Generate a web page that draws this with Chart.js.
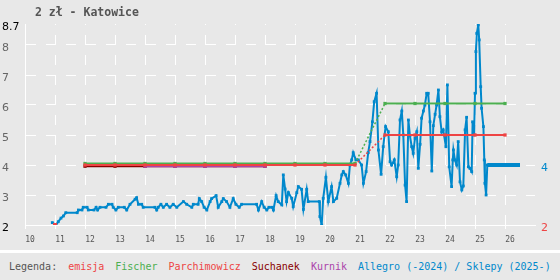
<!DOCTYPE html>
<html>
<head>
<meta charset="utf-8">
<script src="https://cdn.jsdelivr.net/npm/chart.js@4"></script>
<style>
  body { margin: 0; background: #e8e8e8; }
  #wrap { position: relative; width: 560px; height: 280px; background: #e8e8e8; overflow: hidden; }
  #title { position: absolute; left: 35px; top: 4px; font: bold 11.5px "DejaVu Sans Mono", monospace; line-height: 16px; color: #555; white-space: pre; }
  #sep { position: absolute; left: 0; top: 250px; width: 560px; height: 3px; background: #fff; }
  #legend { position: absolute; left: 9px; top: 260px; font: 10px "DejaVu Sans Mono", monospace; line-height: 14px; color: #555; white-space: pre; }
  #legend span { margin-left: 11px; }
</style>
</head>
<body>
<div id="wrap">
  <canvas id="chart" width="560" height="250"></canvas>
  <div id="title">2 zł - Katowice</div>
  <div id="sep"></div>
  <div id="legend">Legenda:<span style="color:#e44">emisja</span><span style="color:#4caf50">Fischer</span><span style="color:#e44">Parchimowicz</span><span style="color:#800">Suchanek</span><span style="color:#a4a">Kurnik</span><span style="color:#08c">Allegro (-2024) / Sklepy (2025-)</span></div>
</div>
<script>
// tick labels
var xYears = [10, 11, 12, 13, 14, 15, 16, 17, 18, 19, 20, 21, 22, 23, 24, 25, 26];
var yTicks = [2, 3, 4, 5, 6, 7, 8, 8.7];

// emisja
var emisjaYears = [11];
var emisjaPrices = [2];

// katalogi
var fischerYears = [12, 13, 14, 15, 16, 17, 18, 19, 20, 21, 22, 23, 24, 25, 26];
var fischerPrices = [4.05, 4.05, 4.05, 4.05, 4.05, 4.05, 4.05, 4.05, 4.05, 4.05, 6.05, 6.05, 6.05, 6.05, 6.05];
var parchYears = [12, 13, 14, 15, 16, 17, 18, 19, 20, 21, 22, 23, 24, 25, 26];
var parchPrices = [4, 4, 4, 4, 4, 4, 4, 4, 4, 4, 5, 5, 5, 5, 5];
var suchanekYears = [12, 13, 14, 15, 16, 17, 18];
var suchanekPrices = [3.96, 3.96, 3.96, 3.96, 3.96, 3.96, 3.96];
var kurnikYears = [14, 15, 16, 17, 18];
var kurnikPrices = [3.96, 3.96, 3.96, 3.96, 3.96];

// allegro
var allegroYears = [10.91, 11.03, 11.11, 11.2, 11.28, 11.36, 11.74, 11.78, 11.9, 11.94, 12.07, 12.11, 12.3, 12.37, 12.42, 12.5, 12.7, 12.78, 12.9, 12.94,
  13.03, 13.11, 13.31, 13.39, 13.5, 13.67, 13.72, 13.78, 13.89, 13.94, 14.33, 14.39, 14.44, 14.53, 14.61, 14.72, 14.83, 14.94, 15.06, 15.28,
  15.39, 15.56, 15.61, 15.77, 15.81, 15.89, 15.97, 16.06, 16.17, 16.22, 16.37, 16.44, 16.56, 16.61, 16.72, 16.83, 16.94, 17.03, 17.14, 17.22,
  17.72, 17.78, 17.89, 17.97, 18.06, 18.13, 18.23, 18.28, 18.37, 18.44, 18.56, 18.61, 18.67, 18.72, 18.78, 18.89, 18.94, 19.06, 19.11, 19.22,
  19.28, 19.39, 19.44, 19.81, 19.83, 19.89, 19.94, 20.03, 20.11, 20.22, 20.28, 20.39, 20.5, 20.56, 20.61, 20.69, 20.78, 20.83, 20.89, 20.94,
  21.03, 21.11, 21.22, 21.28, 21.37, 21.44, 21.5, 21.58, 21.64, 21.72, 21.78, 21.87, 21.94, 22.02, 22.11, 22.17, 22.22, 22.31, 22.39, 22.44,
  22.5, 22.56, 22.61, 22.67, 22.72, 22.78, 22.83, 22.89, 22.94, 23.0, 23.06, 23.11, 23.17, 23.22, 23.28, 23.33, 23.39, 23.44, 23.5, 23.56,
  23.61, 23.67, 23.72, 23.78, 23.83, 23.89, 23.94, 24.03, 24.08, 24.14, 24.22, 24.26, 24.28, 24.33, 24.39, 24.44, 24.5, 24.56, 24.61, 24.67,
  24.72, 24.78, 24.83, 24.89, 24.92, 24.97, 25.0, 25.03, 25.06, 25.11, 25.14, 25.19, 25.22, 25.28, 25.31, 25.33, 25.37, 25.41];
var allegroPrices = [2.08, 2.0, 2.11, 2.23, 2.3, 2.41, 2.41, 2.5, 2.5, 2.59, 2.59, 2.5, 2.5, 2.59, 2.5, 2.59, 2.59, 2.69, 2.69, 2.59,
  2.5, 2.59, 2.59, 2.5, 2.69, 2.86, 2.91, 2.69, 2.69, 2.59, 2.59, 2.5, 2.59, 2.69, 2.59, 2.69, 2.59, 2.69, 2.59, 2.78,
  2.69, 2.59, 2.69, 2.69, 2.88, 2.78, 2.59, 2.5, 2.78, 2.88, 2.98, 2.59, 2.78, 2.88, 2.78, 2.59, 2.88, 2.69, 2.59, 2.69,
  2.69, 2.5, 2.78, 2.59, 2.5, 2.59, 2.59, 2.5, 2.98, 2.78, 2.67, 3.67, 3.2, 2.78, 3.08, 2.89, 2.61, 3.08, 3.28, 3.19,
  2.52, 3.19, 2.78, 2.78, 2.28, 2.0, 2.89, 3.59, 2.78, 3.28, 2.78, 2.89, 3.39, 3.67, 3.78, 3.67, 3.39, 4.0, 4.17, 4.41,
  4.17, 4.17, 4.0, 3.39, 3.78, 4.41, 4.78, 5.44, 6.11, 6.39, 4.5, 3.69, 4.61, 5.28, 5.11, 4.11, 4.0, 4.17, 3.61, 4.0,
  5.5, 5.8, 5.0, 3.33, 2.78, 5.5, 4.98, 4.61, 4.39, 4.89, 5.11, 3.89, 4.69, 5.56, 5.8, 6.0, 6.39, 6.39, 5.44, 3.8,
  5.31, 5.69, 6.0, 6.5, 5.61, 5.1, 5.17, 4.61, 6.67, 3.94, 3.28, 4.17, 4.5, 4.17, 4.0, 4.78, 3.44, 3.17, 3.3, 5.17,
  5.59, 3.94, 3.89, 3.78, 5.44, 5.0, 6.39, 7.78, 8.39, 8.67, 8.17, 6.61, 5.89, 5.28, 4.17, 3.39, 3.0, 4.0];

// sklepy
var sklepyYears = [25.41, 26.5];
var sklepyPrices = [4, 4];

function pts(xs, ys) {
  return xs.map(function (x, i) { return { x: x, y: ys[i] }; });
}

// kropkowany odcinek przy zmianie ceny w katalogu
var jump = function (c) { return c.p0.parsed.y !== c.p1.parsed.y; };
var jumpSegment = {
  borderDash: function (c) { return jump(c) ? [2, 2] : undefined; },
  borderWidth: function (c) { return jump(c) ? 1.5 : undefined; }
};

var lastLabels = [
  { value: emisjaPrices[emisjaPrices.length - 1], color: '#e44' },
  { value: sklepyPrices[sklepyPrices.length - 1], color: '#08c' }
];

var gridColor = '#ffffff';

var ctx = document.getElementById('chart');
new Chart(ctx, {
  type: 'line',
  data: {
    datasets: [
      { label: 'emisja', data: pts(emisjaYears, emisjaPrices), borderColor: '#e44', backgroundColor: '#e44',
        pointStyle: 'rect', pointRadius: 2.8, pointBorderWidth: 0, showLine: false },
      { label: 'Parchimowicz', data: pts(parchYears, parchPrices), borderColor: '#e44', backgroundColor: '#e44', borderWidth: 2,
        pointStyle: 'rect', pointRadius: 2.3, pointBorderWidth: 0, segment: jumpSegment },
      { label: 'Fischer', data: pts(fischerYears, fischerPrices), borderColor: '#4caf50', backgroundColor: '#4caf50', borderWidth: 2,
        pointStyle: 'rect', pointRadius: 2.3, pointBorderWidth: 0, segment: jumpSegment },
      { label: 'Kurnik', data: pts(kurnikYears, kurnikPrices), borderColor: '#a4a', backgroundColor: '#a4a', borderWidth: 2,
        pointStyle: 'rect', pointRadius: 2.3, pointBorderWidth: 0 },
      { label: 'Suchanek', data: pts(suchanekYears, suchanekPrices), borderColor: '#800', backgroundColor: '#800', borderWidth: 2,
        pointStyle: 'rect', pointRadius: 2.3, pointBorderWidth: 0 },
      { label: 'Allegro', data: pts(allegroYears, allegroPrices), borderColor: '#08c', backgroundColor: '#08c', borderWidth: 2,
        pointStyle: 'rect', pointRadius: 2, pointBorderWidth: 0 },
      { label: 'Sklepy', data: pts(sklepyYears, sklepyPrices), borderColor: '#08c', backgroundColor: '#08c', borderWidth: 4,
        pointRadius: 0, borderCapStyle: 'butt' }
    ]
  },
  options: {
    responsive: false,
    animation: false,
    layout: { padding: { top: 24, left: 2, right: 0, bottom: 0 } },
    plugins: { legend: { display: false }, tooltip: { enabled: false }, title: { display: false } },
    scales: {
      x: {
        type: 'linear', min: 10, max: 27,
        afterBuildTicks: function (s) { s.ticks = xYears.map(function (v) { return { value: v }; }); },
        afterFit: function (s) { s.height = 25; },
        grid: { display: true, color: gridColor, lineWidth: 1, tickColor: gridColor, tickLength: 4 },
        border: { display: true, color: gridColor, width: 1, dash: [10, 10], dashOffset: 9 },
        ticks: { color: '#555', font: { family: 'DejaVu Sans Mono', size: 8 }, labelOffset: 5, padding: 6, maxRotation: 0, autoSkip: false }
      },
      y: {
        position: 'left', min: 2, max: 8.7,
        afterBuildTicks: function (s) { s.ticks = yTicks.map(function (v) { return { value: v }; }); },
        afterFit: function (s) { s.width = 23; },
        grid: { display: true, lineWidth: 1, color: function (c) { return c.tick && c.tick.value === 8.7 ? 'rgba(0,0,0,0)' : gridColor; }, drawTicks: false },
        border: { display: true, color: gridColor, width: 1, dash: [10, 10] },
        ticks: {
          color: function (c) { return (c.tick.value === 2 || c.tick.value === 8.7) ? '#000' : '#666'; },
          font: { family: 'DejaVu Sans', size: 11 }, crossAlign: 'far', labelOffset: 3.5, padding: 0, autoSkip: false,
          callback: function (v) { return String(v); }
        }
      },
      y2: {
        position: 'right', min: 2, max: 8.7,
        afterBuildTicks: function (s) { s.ticks = lastLabels.map(function (l) { return { value: l.value }; }); },
        afterFit: function (s) { s.width = 25; },
        grid: { drawOnChartArea: false, drawTicks: false },
        border: { display: false },
        ticks: {
          color: function (c) { return c.index === 0 ? lastLabels[0].color : lastLabels[1].color; },
          font: { family: 'DejaVu Sans', size: 11 }, padding: 6, labelOffset: 3.5, autoSkip: false
        }
      }
    }
  }
});
</script>
</body>
</html>
